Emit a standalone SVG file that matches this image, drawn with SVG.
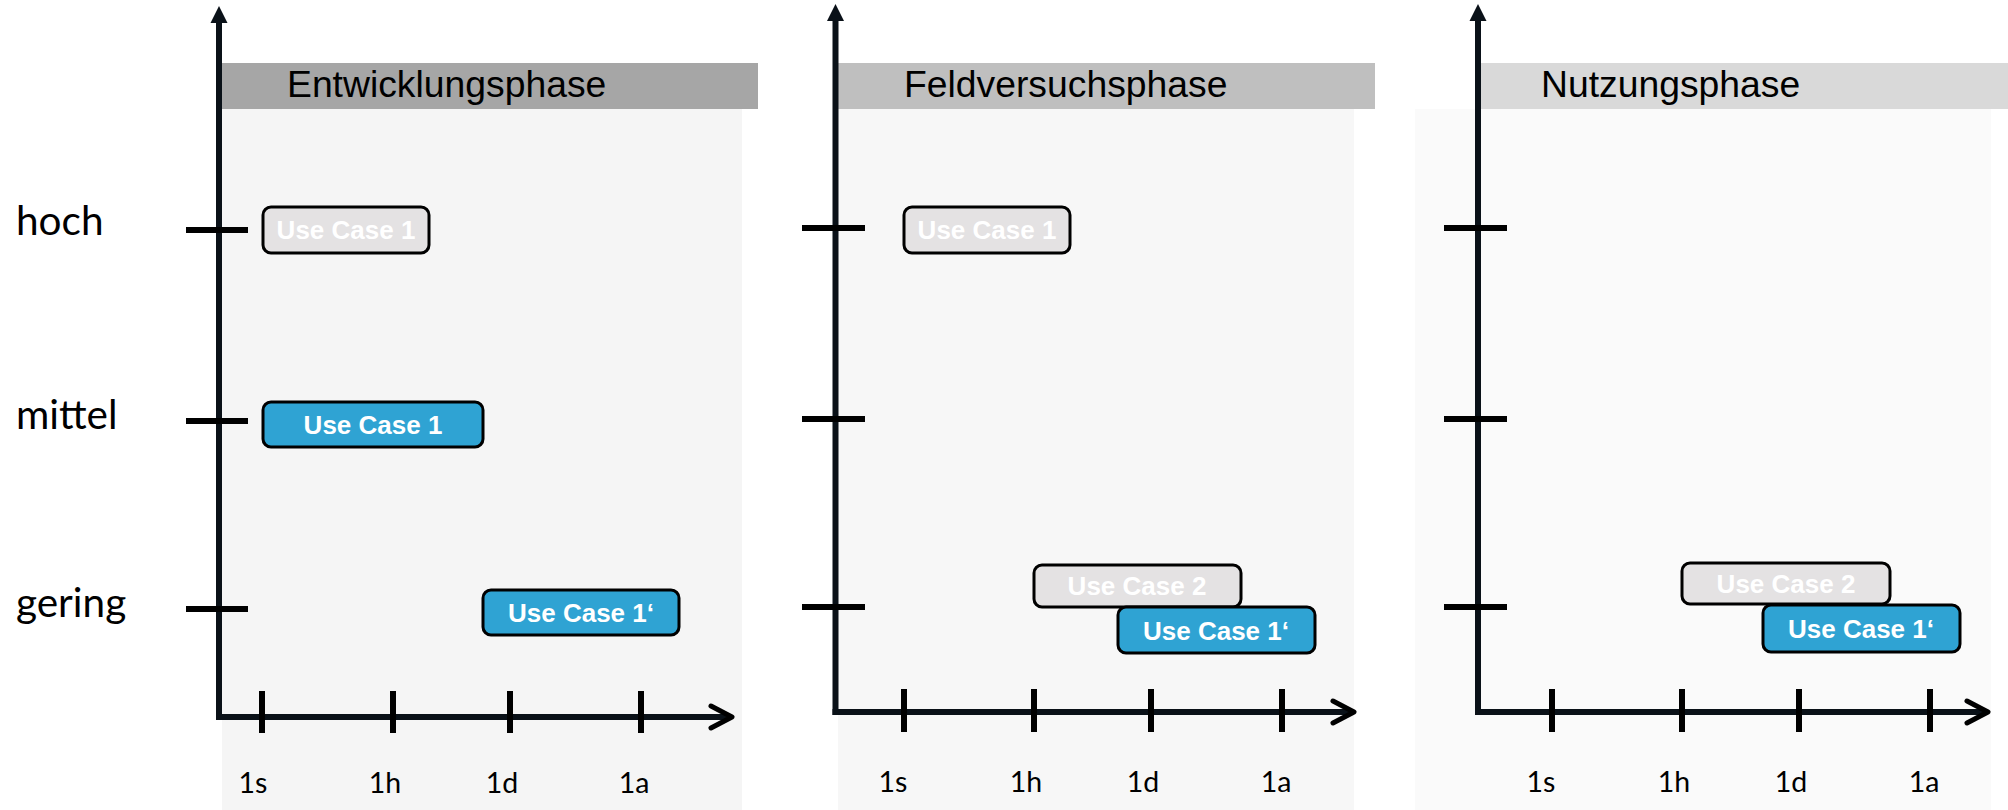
<svg xmlns="http://www.w3.org/2000/svg" width="2008" height="810" viewBox="0 0 2008 810">
  <style>
    .hdrtxt { font-family: "Liberation Sans", Arial, sans-serif; font-size: 37.3px; fill: #000; }
    .lvl { font-family: Lato, "Open Sans", sans-serif; font-size: 40.5px; fill: #000; }
    .tl { font-family: Lato, "Open Sans", sans-serif; font-size: 28.5px; fill: #000; text-anchor: middle; }
    .box { stroke: #000; stroke-width: 3; }
    .blue { fill: #2fa3d3; }
    .gray { fill: #e4e2e3; }
    .bt { font-family: "Liberation Sans", Arial, sans-serif; font-size: 26px; font-weight: bold; fill: #fff; text-anchor: middle; }
    .axis { stroke: #0a1118; stroke-width: 6; fill: none; }
    .tick { stroke: #000; stroke-width: 6; fill: none; }
    .chev { stroke: #000; stroke-width: 5; fill: none; stroke-linecap: round; stroke-linejoin: round; }
  </style>
  <rect x="0" y="0" width="2008" height="810" fill="#ffffff"/>

  <!-- panel backgrounds and headers -->
  <g id="panel1">
    <rect x="222" y="109" width="520" height="701" fill="#f5f5f5"/>
    <rect x="221" y="63" width="537" height="46" fill="#a6a6a6"/>
    <text class="hdrtxt" x="287" y="97">Entwicklungsphase</text>
  </g>
  <g id="panel2">
    <rect x="838" y="109" width="516" height="701" fill="#f7f7f7"/>
    <rect x="838" y="63" width="537" height="46" fill="#bfbfbf"/>
    <text class="hdrtxt" x="904" y="97">Feldversuchsphase</text>
  </g>
  <g id="panel3">
    <rect x="1415" y="109" width="576" height="701" fill="#fafafa"/>
    <rect x="1480" y="63" width="528" height="46" fill="#d9d9d9"/>
    <text class="hdrtxt" x="1541" y="97">Nutzungsphase</text>
  </g>

  <!-- level labels -->
  <g id="levels">
    <text class="lvl" x="16" y="235">hoch</text>
    <text class="lvl" x="16" y="429">mittel</text>
    <text class="lvl" x="16" y="617">gering</text>
  </g>

  <!-- axes -->
  <g id="connectors">
    <!-- panel 1 -->
    <line class="axis" x1="219" y1="720" x2="219" y2="20"/>
    <polygon points="219,6 210.5,23 227.5,23" fill="#0a1118"/>
    <line class="axis" x1="216" y1="717" x2="731" y2="717"/>
    <polyline class="chev" points="711,706 732,717 711,728"/>
    <line class="tick" x1="186" y1="230" x2="248" y2="230"/>
    <line class="tick" x1="186" y1="421" x2="248" y2="421"/>
    <line class="tick" x1="186" y1="609" x2="248" y2="609"/>
    <line class="tick" x1="262" y1="691" x2="262" y2="733"/>
    <line class="tick" x1="393" y1="691" x2="393" y2="733"/>
    <line class="tick" x1="510" y1="691" x2="510" y2="733"/>
    <line class="tick" x1="641" y1="691" x2="641" y2="733"/>
    <!-- panel 2 -->
    <line class="axis" x1="835.5" y1="715" x2="835.5" y2="18"/>
    <polygon points="835.5,4 827,21 844,21" fill="#0a1118"/>
    <line class="axis" x1="832.5" y1="712" x2="1353" y2="712"/>
    <polyline class="chev" points="1333,701 1354,712 1333,723"/>
    <line class="tick" x1="802" y1="228" x2="865" y2="228"/>
    <line class="tick" x1="802" y1="419" x2="865" y2="419"/>
    <line class="tick" x1="802" y1="607" x2="865" y2="607"/>
    <line class="tick" x1="904" y1="689" x2="904" y2="732"/>
    <line class="tick" x1="1034" y1="689" x2="1034" y2="732"/>
    <line class="tick" x1="1151" y1="689" x2="1151" y2="732"/>
    <line class="tick" x1="1282" y1="689" x2="1282" y2="732"/>
    <!-- panel 3 -->
    <line class="axis" x1="1478" y1="715" x2="1478" y2="18"/>
    <polygon points="1478,4 1469.5,21 1486.5,21" fill="#0a1118"/>
    <line class="axis" x1="1475" y1="712" x2="1987" y2="712"/>
    <polyline class="chev" points="1967,701 1988,712 1967,723"/>
    <line class="tick" x1="1444" y1="228" x2="1507" y2="228"/>
    <line class="tick" x1="1444" y1="419" x2="1507" y2="419"/>
    <line class="tick" x1="1444" y1="607" x2="1507" y2="607"/>
    <line class="tick" x1="1552" y1="689" x2="1552" y2="732"/>
    <line class="tick" x1="1682" y1="689" x2="1682" y2="732"/>
    <line class="tick" x1="1799" y1="689" x2="1799" y2="732"/>
    <line class="tick" x1="1930" y1="689" x2="1930" y2="732"/>
  </g>

  <!-- time labels -->
  <g id="timelabels">
    <text class="tl" x="253" y="793">1s</text>
    <text class="tl" x="385" y="793">1h</text>
    <text class="tl" x="502" y="793">1d</text>
    <text class="tl" x="634" y="793">1a</text>
    <text class="tl" x="893" y="792">1s</text>
    <text class="tl" x="1026" y="792">1h</text>
    <text class="tl" x="1143" y="792">1d</text>
    <text class="tl" x="1276" y="792">1a</text>
    <text class="tl" x="1541" y="792">1s</text>
    <text class="tl" x="1674" y="792">1h</text>
    <text class="tl" x="1791" y="792">1d</text>
    <text class="tl" x="1924" y="792">1a</text>
  </g>

  <!-- use case boxes -->
  <g id="p1-uc1-hoch">
    <rect class="box gray" x="263" y="207" width="166" height="46" rx="8"/>
    <text class="bt" x="346" y="239">Use Case 1</text>
  </g>
  <g id="p1-uc1-mittel">
    <rect class="box blue" x="263" y="402" width="220" height="45" rx="8"/>
    <text class="bt" x="373" y="434">Use Case 1</text>
  </g>
  <g id="p1-uc1prime">
    <rect class="box blue" x="483" y="590" width="196" height="45" rx="8"/>
    <text class="bt" x="581" y="622">Use Case 1‘</text>
  </g>

  <g id="p2-uc1-hoch">
    <rect class="box gray" x="904" y="207" width="166" height="46" rx="8"/>
    <text class="bt" x="987" y="239">Use Case 1</text>
  </g>
  <g id="p2-uc2">
    <rect class="box gray" x="1034" y="565" width="207" height="42" rx="8"/>
    <text class="bt" x="1137" y="595">Use Case 2</text>
  </g>
  <g id="p2-uc1prime">
    <rect class="box blue" x="1118" y="607" width="197" height="46" rx="8"/>
    <text class="bt" x="1216" y="640">Use Case 1‘</text>
  </g>

  <g id="p3-uc2">
    <rect class="box gray" x="1682" y="563" width="208" height="41" rx="8"/>
    <text class="bt" x="1786" y="593">Use Case 2</text>
  </g>
  <g id="p3-uc1prime">
    <rect class="box blue" x="1763" y="605" width="197" height="47" rx="8"/>
    <text class="bt" x="1861" y="638">Use Case 1‘</text>
  </g>
</svg>
